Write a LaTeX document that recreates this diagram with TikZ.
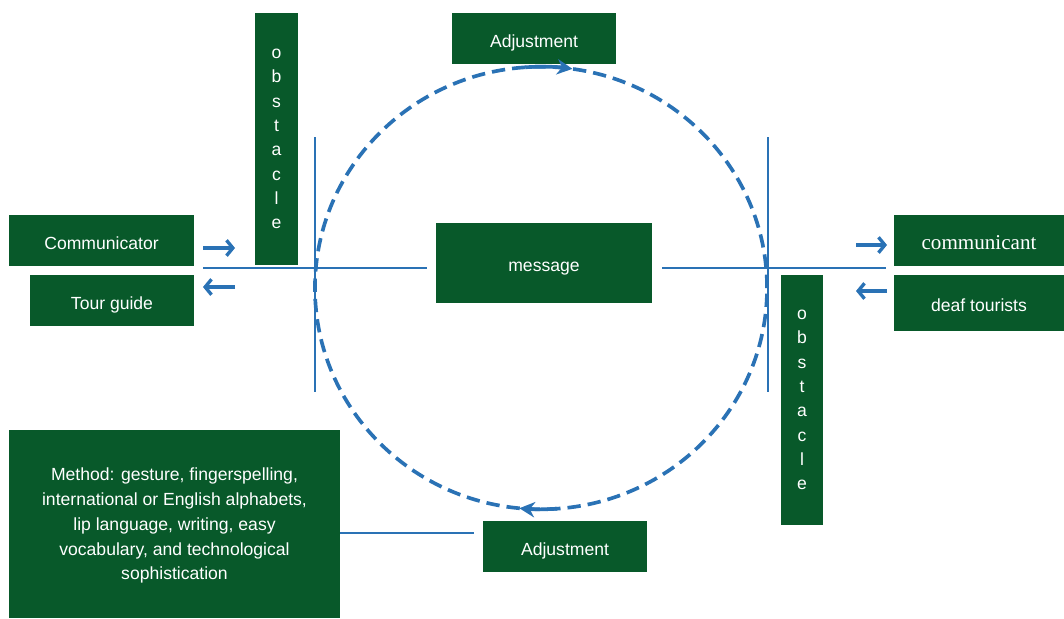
\documentclass[tikz,border=0pt]{standalone}
\usepackage{fontspec}
\setmainfont{Liberation Sans}
\newfontfamily\cantfont{Liberation Serif}
\usetikzlibrary{arrows.meta,calc}
\definecolor{diaGreen}{HTML}{08592A}
\definecolor{diaBlue}{HTML}{2A72B5}
\tikzset{
  gbox/.style={fill=diaGreen, text=white, inner sep=0pt, align=center,
               minimum width=4.1cm, minimum height=1.275cm,
               font=\fontsize{12.5}{15}\selectfont},
  oneline/.style={gbox, text height=12.6pt, text depth=0pt},
  obsbox/.style={gbox, minimum width=1.06cm, minimum height=6.28cm,
                 text depth=-17pt, font=\fontsize{12.5}{17.3}\selectfont},
  wire/.style={diaBlue, line width=1.5pt},
  flowarrow/.style={diaBlue, line width=2.4pt,
                    -{Straight Barb[length=4.5pt,width=11pt]}},
  loopline/.style={diaBlue, line width=2.6pt, dash pattern=on 9.5pt off 5pt},
  looptip/.style={diaBlue, line width=2.6pt, -{Stealth[length=11pt,width=11pt]}},
}

\begin{document}
\begin{tikzpicture}[x=0.025cm, y=-0.025cm]
\useasboundingbox (0,0) rectangle (1064,618);
%% Nodes
\node[oneline, minimum width=4.625cm] (comm) at (101.5,240.5) {Communicator};
\node[oneline] (guide) at (112,300.5) {Tour guide};
\node[obsbox] (obsL) at (276.5,139) {o\\b\\s\\t\\a\\c\\l\\e};
\node[oneline] (adjT) at (534,38.5) {Adjustment};
\node[oneline, minimum width=5.4cm, minimum height=2cm] (msg) at (544,263) {message};
\node[oneline, minimum width=4.25cm, font=\cantfont\fontsize{15}{17}\selectfont]
  (cant) at (979,240.5) {communicant};
\node[oneline, minimum width=4.25cm, minimum height=1.4cm] (deaf) at (979,303) {deaf tourists};
\node[obsbox, minimum width=1.05cm, minimum height=6.25cm] (obsR) at (802,400)
  {o\\b\\s\\t\\a\\c\\l\\e};
\node[gbox, minimum width=8.275cm, minimum height=4.7cm, text depth=-12pt,
      font=\fontsize{12.5}{17.6}\selectfont] (method) at (174.5,524)
  {Method: gesture, fingerspelling,\\international or English alphabets,\\
   lip language, writing, easy\\vocabulary, and technological\\sophistication};
\node[oneline] (adjB) at (565,546.5) {Adjustment};
%% Coordinates
\coordinate (lend) at (203,268);
\coordinate (rend) at (886,268);
\coordinate (vLt) at (315,137);
\coordinate (vLb) at (315,392);
\coordinate (vRt) at (768,137);
\coordinate (vRb) at (768,392);
\coordinate (cen) at (541,288);
\coordinate (inA) at (203,248);
\coordinate (inB) at (235,248);
\coordinate (outA) at (235,287);
\coordinate (outB) at (203,287);
\coordinate (inC) at (856,245);
\coordinate (inD) at (887,245);
\coordinate (outC) at (887,291);
\coordinate (outD) at (856,291);
%% Loop
\draw[loopline] (cen) ellipse [x radius=5.65cm, y radius=5.53cm];
\draw[looptip] ([shift={(94:5.65cm and 5.53cm)}]cen)
  arc[start angle=94, end angle=82, x radius=5.65cm, y radius=5.53cm];
\draw[looptip] ([shift={(-86:5.65cm and 5.53cm)}]cen)
  arc[start angle=-86, end angle=-95.5, x radius=5.65cm, y radius=5.53cm];
%% Edges
\draw[wire] (lend) -- ([xshift=-6pt]msg.west |- lend);
\draw[wire] ([xshift=7pt]msg.east |- rend) -- (rend);
\draw[wire] (vLt) -- (vLb);
\draw[wire] (vRt) -- (vRb);
\draw[wire] (method.east |- 0,533) -- ([xshift=-6pt]adjB.west |- 0,533);
\draw[flowarrow] (inA) -- (inB);
\draw[flowarrow] (outA) -- (outB);
\draw[flowarrow] (inC) -- (inD);
\draw[flowarrow] (outC) -- (outD);
\end{tikzpicture}
\end{document}
